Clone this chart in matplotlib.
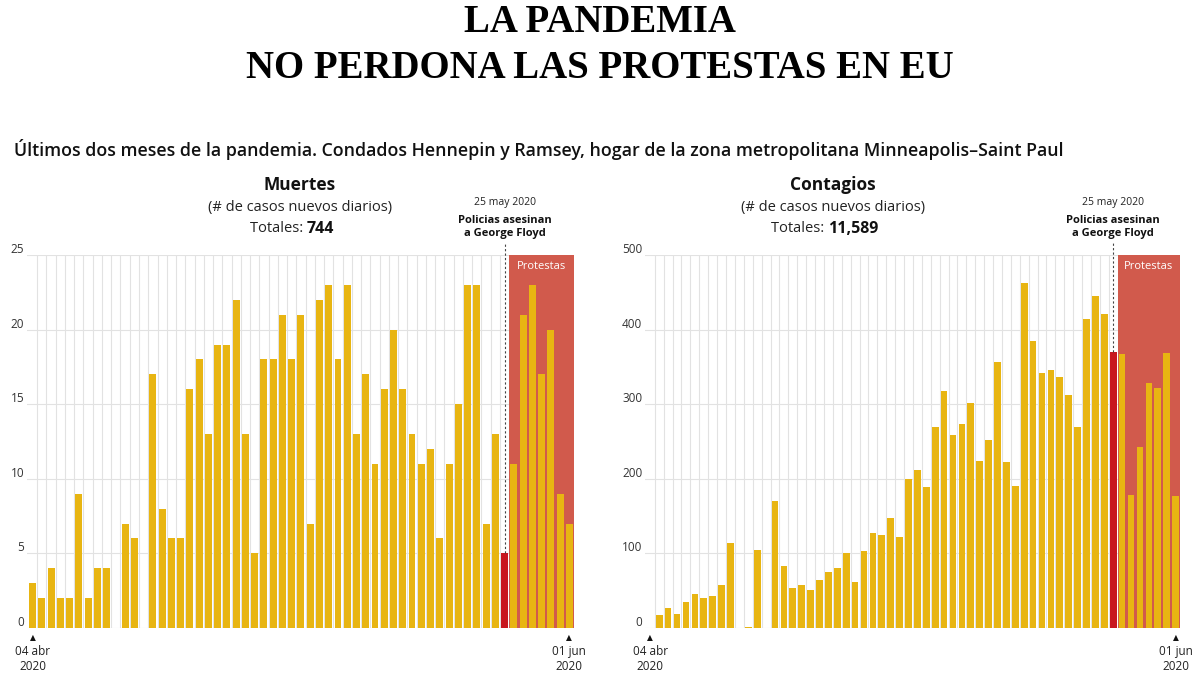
import matplotlib.pyplot as plt
from matplotlib.transforms import ScaledTranslation
import numpy as np

# Daily new cases, 04 abr - 01 jun 2020 (Hennepin + Ramsey)
muertes = [3, 2, 4, 2, 2, 9, 2, 4, 4, 0, 7, 6, 0, 17, 8, 6, 6, 16, 18, 13,
           19, 19, 22, 13, 5, 18, 18, 21, 18, 21, 7, 22, 23, 18, 23, 13, 17, 11, 16, 20,
           16, 13, 11, 12, 6, 11, 15, 23, 23, 7, 13, 5, 11, 21, 23, 17, 20, 9, 7]
contagios = [0, 18, 27, 19, 35, 45, 40, 43, 57, 114, 0, 2, 104, 0, 170, 83, 54, 57, 51, 64,
             75, 80, 101, 62, 103, 128, 124, 148, 122, 200, 212, 189, 269, 318, 259, 274, 301, 224, 252, 356,
             222, 191, 463, 385, 342, 346, 337, 313, 270, 414, 445, 421, 370, 367, 178, 243, 329, 322, 368, 177]
evento_muertes = 51    # 25 may 2020
evento_contagios = 52
ticks_muertes = [0, 5, 10, 15, 20, 25]
ticks_contagios = [0, 100, 200, 300, 400, 500]
totales = ['744', '11,589']
titulos = ['Muertes', 'Contagios']

AMARILLO = '#E8B512'
ROJO = '#C8161E'
SOMBRA = '#D15A4C'
GRIS = '#E2E2E2'
SANS = ['Open Sans', 'DejaVu Sans']

plt.rcParams['font.family'] = SANS

fig = plt.figure(figsize=(12, 6.75), dpi=100)


def px(x, y):
    return x / 1200, 1 - y / 675


def draw_panel(rect, values, event, yticks, title, total, center_x, split_x):
    ax = fig.add_axes(rect)
    n = len(values)
    x = np.arange(n)
    ymax = yticks[-1]
    ax.set_xlim(-0.6, n - 0.5)
    ax.set_ylim(0, ymax)

    # light grid
    for b in x[:-1] + 0.5:
        ax.axvline(b, color=GRIS, lw=0.8, zorder=0)
    for t in yticks:
        ax.axhline(t, color=GRIS, lw=0.8, zorder=0)

    # protest period shading
    ax.axvspan(event + 0.5, n - 0.5, color=SOMBRA, lw=0, zorder=1)
    ax.text((event + 0.5 + n - 0.5) / 2, ymax * 0.985, 'Protestas', color='white',
            ha='center', va='top', fontsize=8, zorder=4)

    colors = [ROJO if i == event else AMARILLO for i in x]
    ax.bar(x, values, width=0.75, color=colors, zorder=2)

    # dashed event line
    ax.plot([event, event], [values[event], ymax * 1.035], ls=(0, (2, 2)), color='#444444',
            lw=0.8, clip_on=False, zorder=3)

    for s in ax.spines.values():
        s.set_visible(False)
    ax.set_xticks([])
    ax.set_yticks(yticks)
    ax.tick_params(axis='y', length=0, pad=2, labelsize=8.5, labelcolor='#333333')
    off = ScaledTranslation(0, 5 / 72, fig.dpi_scale_trans)
    for lab in ax.get_yticklabels():
        lab.set_transform(lab.get_transform() + off)

    # first / last date markers
    for i, lab in [(0, '04 abr\n2020'), (n - 1, '01 jun\n2020')]:
        ax.annotate('▲', (i, 0), xytext=(0, -7), textcoords='offset points', ha='center',
                    va='center', fontsize=5.5, color='#111111', annotation_clip=False,
                    family='DejaVu Sans')
        ax.annotate(lab, (i, 0), xytext=(0, -12), textcoords='offset points', ha='center',
                    va='top', fontsize=8.5, color='#222222', linespacing=1.2,
                    annotation_clip=False)

    # panel headers
    fig.text(*px(center_x, 185), title, ha='center', va='center', fontsize=12.5,
             fontweight='bold', color='#111111')
    fig.text(*px(center_x, 207), '(# de casos nuevos diarios)', ha='center', va='center',
             fontsize=10.5, color='#222222')
    fig.text(*px(split_x, 229), 'Totales: ', ha='right', va='center', fontsize=10.5,
             color='#222222')
    fig.text(*px(split_x, 229), total, ha='left', va='center', fontsize=11.5,
             fontweight='bold', color='#111111')

    # event annotation
    ex = ax.transData.transform((event, 0))[0] / fig.dpi / 12
    fig.text(ex, 1 - 203 / 675, '25 may 2020', ha='center', va='center', fontsize=7.5,
             color='#222222')
    fig.text(ex, 1 - 227 / 675, 'Policias asesinan\na George Floyd', ha='center',
             va='center', fontsize=8, fontweight='bold', color='#111111', linespacing=1.2)
    return ax


draw_panel([27 / 1200, 47 / 675, 547 / 1200, 373 / 675], muertes, evento_muertes,
           ticks_muertes, titulos[0], totales[0], 300, 307)
draw_panel([645 / 1200, 47 / 675, 535 / 1200, 373 / 675], contagios, evento_contagios,
           ticks_contagios, titulos[1], totales[1], 833, 828)

for y, line in [(22, 'LA PANDEMIA'), (68, 'NO PERDONA LAS PROTESTAS EN EU')]:
    fig.text(*px(600, y), line, ha='center', va='center', fontsize=28, fontweight='bold',
             family='Liberation Serif', color='#000000')
fig.text(14 / 1200, 1 - 150 / 675,
         'Últimos dos meses de la pandemia. Condados Hennepin y Ramsey, hogar de la zona '
         'metropolitana Minneapolis–Saint Paul', ha='left', va='center', fontsize=12.8,
         fontweight='semibold', color='#111111')

fig.savefig('out.png', dpi=100)
